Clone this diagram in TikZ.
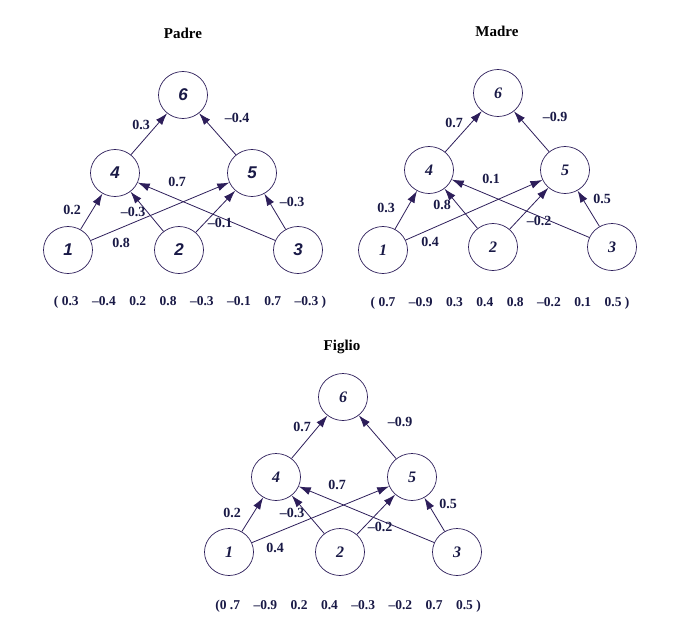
\documentclass[tikz,border=0pt]{standalone}
\usepackage{fontspec}
\setmainfont{Liberation Serif}
\newfontfamily\helv{Liberation Sans}
\usetikzlibrary{arrows.meta,shapes.geometric}
\definecolor{ink}{RGB}{45,30,90}
\definecolor{txt}{RGB}{25,25,70}

\begin{document}
\begin{tikzpicture}[x=1pt,y=-1pt,
    neuron/.style={draw=ink,ellipse,line width=0.7pt,minimum width=49pt,minimum height=47pt,inner sep=0pt,text=txt},
    pnum/.style={font=\fontsize{17}{17}\selectfont\helv\bfseries\itshape},
    snum/.style={font=\fontsize{16}{16}\selectfont\bfseries\itshape},
    syn/.style={draw=ink,line width=0.8pt,-{Latex[length=12pt,width=8pt]}},
    wt/.style={text=txt,font=\fontsize{14}{14}\selectfont\bfseries,inner sep=0pt},
    ttl/.style={font=\fontsize{15}{15}\selectfont\bfseries,inner sep=0pt},
    vec/.style={text=txt,font=\fontsize{13.5}{13.5}\selectfont\bfseries,inner sep=0pt}]
  \useasboundingbox (0,0) rectangle (695,621);

  % Padre
  \node[ttl] (ptitle) at (183,33) {Padre};
  \node[neuron,pnum] (p6) at (183,95) {6};
  \node[neuron,pnum] (p4) at (115,173) {4};
  \node[neuron,pnum] (p5) at (252,173) {5};
  \node[neuron,pnum] (p1) at (68,250) {1};
  \node[neuron,pnum] (p2) at (179,250) {2};
  \node[neuron,pnum] (p3) at (298,250) {3};
  \draw[syn] (p4) -- (p6);
  \draw[syn] (p5) -- (p6);
  \draw[syn] (p1) -- (p4);
  \draw[syn] (p1) -- (p5);
  \draw[syn] (p2) -- (p4);
  \draw[syn] (p2) -- (p5);
  \draw[syn] (p3) -- (p4);
  \draw[syn] (p3) -- (p5);
  \node[wt] (pw46) at (141,125) {0.3};
  \node[wt] (pw56) at (237,118) {--0.4};
  \node[wt] (pw34) at (177,182) {0.7};
  \node[wt] (pw14) at (72,210) {0.2};
  \node[wt] (pw24) at (133,212) {--0.3};
  \node[wt] (pw35) at (292,202) {--0.3};
  \node[wt] (pw25) at (220,223) {--0.1};
  \node[wt] (pw15) at (121,243) {0.8};
  \node[vec] (pvec) at (190,302) {( 0.3\quad --0.4\quad 0.2\quad 0.8\quad --0.3\quad --0.1\quad 0.7\quad --0.3 )};

  % Madre
  \node[ttl] (mtitle) at (497,31) {Madre};
  \node[neuron,snum] (m6) at (498,93) {6};
  \node[neuron,snum] (m4) at (429,170) {4};
  \node[neuron,snum] (m5) at (565,170) {5};
  \node[neuron,snum] (m1) at (383,250) {1};
  \node[neuron,snum] (m2) at (493,247) {2};
  \node[neuron,snum] (m3) at (612,247) {3};
  \draw[syn] (m4) -- (m6);
  \draw[syn] (m5) -- (m6);
  \draw[syn] (m1) -- (m4);
  \draw[syn] (m1) -- (m5);
  \draw[syn] (m2) -- (m4);
  \draw[syn] (m2) -- (m5);
  \draw[syn] (m3) -- (m4);
  \draw[syn] (m3) -- (m5);
  \node[wt] (mw46) at (454,123) {0.7};
  \node[wt] (mw56) at (555,117) {--0.9};
  \node[wt] (mw34) at (491,179) {0.1};
  \node[wt] (mw14) at (386,208) {0.3};
  \node[wt] (mw24) at (442,205) {0.8};
  \node[wt] (mw35) at (602,199) {0.5};
  \node[wt] (mw25) at (539,221) {--0.2};
  \node[wt] (mw15) at (430,242) {0.4};
  \node[vec] (mvec) at (500,303) {( 0.7\quad --0.9\quad 0.3\quad 0.4\quad 0.8\quad --0.2\quad 0.1\quad 0.5 )};

  % Figlio
  \node[ttl] (ftitle) at (342,347) {Figlio};
  \node[neuron,snum] (f6) at (343,397) {6};
  \node[neuron,snum] (f4) at (276,477) {4};
  \node[neuron,snum] (f5) at (412,477) {5};
  \node[neuron,snum] (f1) at (229,552) {1};
  \node[neuron,snum] (f2) at (340,552) {2};
  \node[neuron,snum] (f3) at (457,552) {3};
  \draw[syn] (f4) -- (f6);
  \draw[syn] (f5) -- (f6);
  \draw[syn] (f1) -- (f4);
  \draw[syn] (f1) -- (f5);
  \draw[syn] (f2) -- (f4);
  \draw[syn] (f2) -- (f5);
  \draw[syn] (f3) -- (f4);
  \draw[syn] (f3) -- (f5);
  \node[wt] (fw46) at (302,427) {0.7};
  \node[wt] (fw56) at (400,422) {--0.9};
  \node[wt] (fw34) at (337,485) {0.7};
  \node[wt] (fw14) at (232,513) {0.2};
  \node[wt] (fw24) at (292,513) {--0.3};
  \node[wt] (fw35) at (448,504) {0.5};
  \node[wt] (fw25) at (380,527) {--0.2};
  \node[wt] (fw15) at (275,548) {0.4};
  \node[vec] (fvec) at (348,606) {(0 .7\quad --0.9\quad 0.2\quad 0.4\quad --0.3\quad --0.2\quad 0.7\quad 0.5 )};
\end{tikzpicture}
\end{document}
